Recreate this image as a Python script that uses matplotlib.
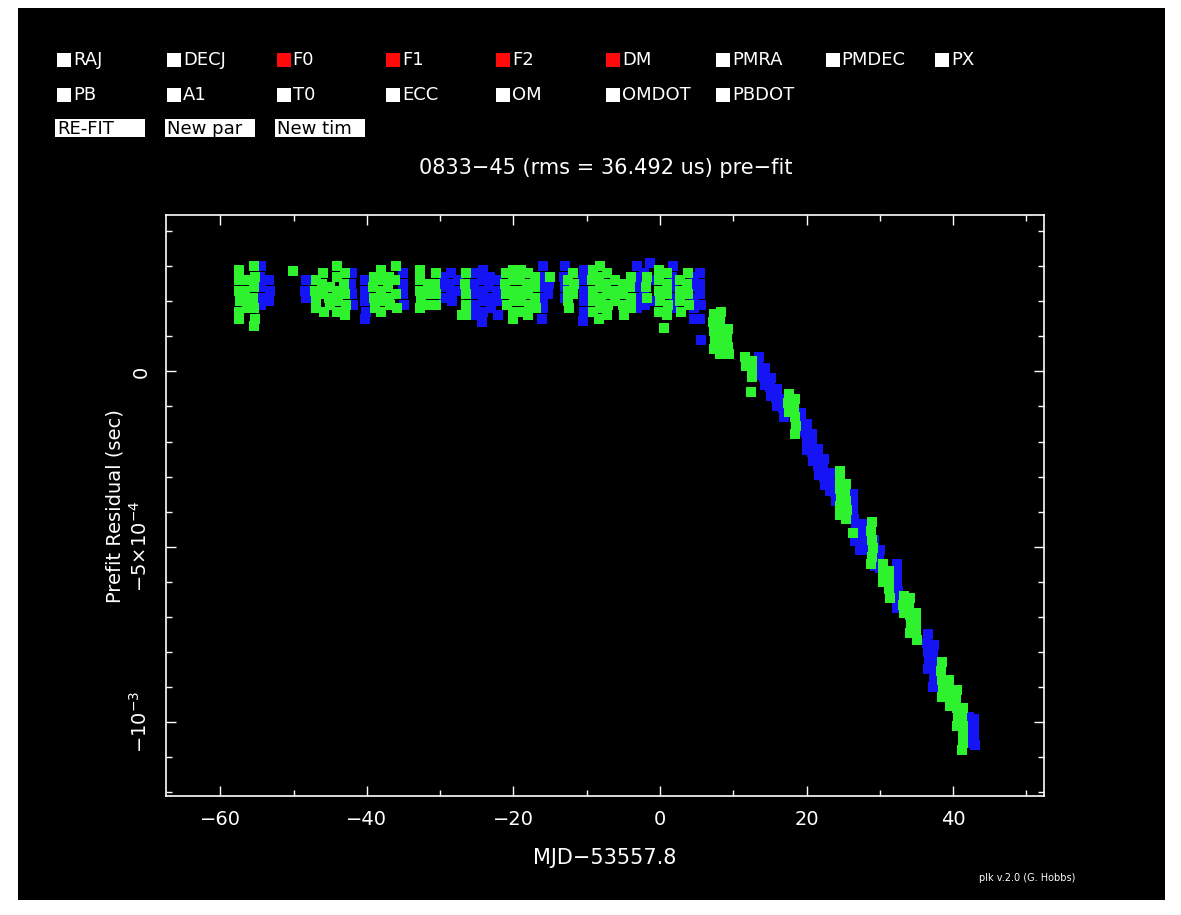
import numpy as np
import matplotlib
matplotlib.use("Agg")
import matplotlib.pyplot as plt
from matplotlib.patches import Rectangle
from matplotlib.ticker import MultipleLocator, FixedLocator

W, H = 1181, 915

# parameter buttons of the plk window
params_row1 = ["RAJ", "DECJ", "F0", "F1", "F2", "DM", "PMRA", "PMDEC", "PX"]
params_row2 = ["PB", "A1", "T0", "ECC", "OM", "OMDOT", "PBDOT"]
fitted = ["F0", "F1", "F2", "DM"]
buttons = ["RE-FIT", "New par", "New tim"]

title = "0833\u221245 (rms = 36.492 us) pre\u2212fit"
xlabel = "MJD\u221253557.8"
ylabel = "Prefit Residual (sec)"
credit = "plk v.2.0 (G. Hobbs)"

ytick_vals = [0, -5e-4, -1e-3]
ytick_text = ["0", r"$-5{\times}10^{-4}$", r"$-10^{-3}$"]

# residuals, x in days, y in units of 1e-4 s
green_x = [
    -57.4, -57.5, -57.4, -57.3, -57.4, -57.5, -56.5, -56.6, -56.5, -56.4,
    -55.4, -55.3, -55.4, -55.5, -55.4, -55.3, -55.4, -50.1,
    -47.0, -47.1, -47.0, -46.9, -46.0, -46.1, -46.0, -45.9, -45.0, -45.1, -45.0,
    -44.0, -44.1, -44.0, -43.9, -44.0, -43.0, -43.1, -43.0, -42.9, -43.0,
    -39.0, -39.1, -39.0, -38.9, -38.0, -38.1, -38.0, -37.9, -38.0,
    -37.0, -37.1, -37.0, -36.9, -36.0, -36.1, -36.0, -35.9,
    -32.7, -32.8, -32.7, -32.6, -32.7, -31.7, -31.6, -31.7, -30.6, -30.7, -30.6, -30.5,
    -26.5, -26.6, -26.5, -26.4, -26.5, -27.0,
    -21.0, -21.1, -21.0, -20.9, -20.0, -20.1, -20.0, -19.9, -20.0, -20.1,
    -19.0, -19.1, -19.0, -18.9, -19.0, -18.0, -18.1, -18.0, -17.9, -18.0,
    -17.0, -17.1, -17.0, -16.9, -15.0,
    -12.5, -12.6, -12.5, -12.4, -11.8, -11.7, -11.8,
    -9.2, -9.3, -9.2, -9.1, -9.2, -8.2, -8.3, -8.2, -8.1, -8.2, -8.3,
    -7.2, -7.3, -7.2, -7.1, -7.2, -6.2, -6.1, -6.2,
    -5.0, -5.1, -5.0, -4.9, -4.0, -4.1, -4.0, -3.9,
    -1.8, -1.9, -1.8,
    -0.1, -0.2, -0.1, 0.0, -0.1, 1.0, 0.9, 1.0, 1.1, 1.0, 0.5,
    2.8, 2.7, 2.8, 2.9, 3.8, 3.7, 3.8, 3.9,
    7.4, 7.3, 7.4, 7.5, 7.4, 8.3, 8.2, 8.3, 8.4, 8.3, 8.2, 9.3, 9.2, 9.3, 9.4,
    11.6, 11.7, 12.6, 12.5, 12.6, 12.4,
    17.6, 17.5, 17.6, 18.4, 18.3, 18.4, 18.5, 18.4,
    24.6, 24.5, 24.6, 24.7, 24.6, 24.5, 25.4, 25.3, 25.4, 25.5, 25.4,
    28.9, 28.8, 28.9, 29.0, 28.9, 28.8, 26.4,
    30.5, 30.4, 30.5, 31.3, 31.2, 31.3, 31.4,
    33.3, 33.2, 33.3, 34.1, 34.0, 34.1, 34.2, 34.1, 35.0, 34.9, 35.0, 35.1,
    38.5, 38.4, 38.5, 38.6, 38.5, 39.5, 39.4, 39.5, 39.6,
    40.5, 40.4, 40.5, 40.6, 40.5, 41.3, 41.2, 41.3, 41.4, 41.3, 41.2,
]
green_y = [
    2.9, 2.6, 2.3, 2.0, 1.7, 1.5, 2.6, 2.3, 2.0, 1.8,
    3.0, 2.7, 2.4, 2.1, 1.8, 1.5, 1.3, 2.87,
    2.6, 2.3, 2.0, 1.8, 2.8, 2.5, 2.2, 1.7, 2.4, 2.1, 1.9,
    3.0, 2.7, 2.3, 2.0, 1.7, 2.8, 2.5, 2.2, 1.9, 1.6,
    2.7, 2.4, 2.1, 1.8, 2.9, 2.6, 2.3, 2.0, 1.7,
    2.7, 2.4, 2.1, 1.9, 3.0, 2.6, 2.2, 1.8,
    2.9, 2.6, 2.3, 2.0, 1.8, 2.5, 2.2, 1.9, 2.8, 2.5, 2.2, 1.9,
    2.8, 2.5, 2.2, 1.9, 1.6, 1.6,
    2.8, 2.5, 2.2, 1.9, 2.9, 2.6, 2.3, 2.0, 1.7, 1.5,
    2.9, 2.6, 2.3, 2.0, 1.7, 2.8, 2.5, 2.2, 1.9, 1.6,
    2.7, 2.4, 2.1, 1.8, 2.7,
    2.6, 2.3, 2.0, 1.8, 2.8, 2.5, 2.2,
    2.9, 2.6, 2.3, 2.0, 1.7, 3.0, 2.7, 2.4, 2.1, 1.8, 1.5,
    2.8, 2.5, 2.2, 1.9, 1.6, 2.6, 2.3, 2.0,
    2.5, 2.2, 1.9, 1.6, 2.7, 2.4, 2.1, 1.8,
    2.7, 2.4, 2.1,
    2.9, 2.6, 2.3, 2.0, 1.7, 2.8, 2.5, 2.2, 1.9, 1.6, 1.24,
    2.6, 2.3, 2.0, 1.7, 2.8, 2.5, 2.2, 1.9,
    1.65, 1.4, 1.15, 0.9, 0.65, 1.7, 1.45, 1.2, 0.95, 0.7, 0.5, 1.2, 0.95, 0.7, 0.5,
    0.4, 0.15, 0.3, 0.05, -0.15, -0.6,
    -0.65, -0.9, -1.15, -0.8, -1.05, -1.3, -1.55, -1.8,
    -2.85, -3.1, -3.35, -3.6, -3.85, -4.1, -3.2, -3.45, -3.7, -3.95, -4.2,
    -4.3, -4.55, -4.8, -5.05, -5.3, -5.5, -4.6,
    -5.5, -5.75, -6.0, -5.7, -5.95, -6.2, -6.45,
    -6.4, -6.65, -6.9, -6.45, -6.7, -6.95, -7.2, -7.45, -6.9, -7.15, -7.4, -7.65,
    -8.3, -8.55, -8.8, -9.05, -9.3, -8.8, -9.05, -9.3, -9.55,
    -9.1, -9.35, -9.6, -9.85, -10.1, -9.6, -9.85, -10.1, -10.35, -10.6, -10.8,
]

blue_x = [
    -54.5, -54.6, -54.5, -54.4, -54.5, -53.3, -53.2, -53.3,
    -48.3, -48.4, -48.3,
    -42.0, -42.1, -42.0, -41.9,
    -40.2, -40.3, -40.2, -40.1, -40.2,
    -35.0, -35.1, -35.0, -34.9,
    -29.5, -29.6, -29.5, -28.5, -28.6, -28.5, -28.4, -27.5, -27.6,
    -25.3, -25.4, -25.3, -25.2, -25.3, -24.2, -24.3, -24.2, -24.1, -24.2, -24.3,
    -23.2, -23.3, -23.2, -23.1, -22.2, -22.3, -22.2, -22.1,
    -16.0, -16.1, -16.0, -15.9, -16.0, -16.1, -15.2, -15.3,
    -13.0, -13.1, -13.0, -12.9,
    -10.4, -10.5, -10.4, -10.3, -10.4, -10.5,
    -3.2, -3.3, -3.2, -3.1, -3.2, -2.2, -2.3, -2.2, -2.1, -1.4, -1.5, -1.4,
    1.8, 1.7, 1.8, 1.9, 1.8,
    4.6, 4.5, 4.6, 4.7, 4.6, 5.5, 5.4, 5.5, 5.6, 5.5, 5.6,
    13.5, 13.4, 13.5, 14.3, 14.2, 14.3, 15.1, 15.0, 15.1,
    16.0, 15.9, 16.0, 16.9, 16.8, 16.9,
    19.3, 19.2, 19.3, 20.0, 19.9, 20.0, 20.1, 20.8, 20.7, 20.8, 20.9,
    21.6, 21.5, 21.6, 21.7, 22.4, 22.3, 22.4, 22.5, 23.2, 23.1, 23.2,
    24.0, 23.9, 24.0,
    26.4, 26.3, 26.4, 26.5,
    26.8, 26.9, 27.6, 27.5, 27.6, 28.4, 28.3, 28.4, 29.2, 29.1, 29.2, 29.3,
    30.0, 29.9, 30.0, 26.6, 27.3,
    32.4, 32.3, 32.4, 32.5, 32.4, 32.3,
    36.6, 36.5, 36.6, 36.7, 36.6, 37.4, 37.3, 37.4, 37.5, 37.4, 37.3,
    42.2, 42.1, 42.2, 42.3, 42.9, 42.8, 42.9, 43.0,
]
blue_y = [
    3.0, 2.7, 2.4, 2.1, 1.9, 2.6, 2.3, 2.0,
    2.6, 2.3, 2.1,
    2.8, 2.5, 2.2, 1.9,
    2.6, 2.3, 2.0, 1.7, 1.5,
    2.8, 2.5, 2.2, 1.9,
    2.7, 2.4, 2.1, 2.8, 2.5, 2.2, 2.0, 2.6, 2.3,
    2.8, 2.5, 2.2, 1.9, 1.6, 2.9, 2.6, 2.3, 2.0, 1.7, 1.4,
    2.7, 2.4, 2.1, 1.8, 2.6, 2.3, 2.0, 1.6,
    3.0, 2.7, 2.4, 2.1, 1.8, 1.5, 2.5, 2.2,
    3.0, 2.7, 2.4, 2.1,
    2.9, 2.6, 2.3, 2.0, 1.7, 1.45,
    3.0, 2.7, 2.4, 2.1, 1.8, 2.8, 2.5, 2.2, 1.9, 3.1, 2.6, 2.0,
    3.0, 2.7, 2.4, 2.1, 1.8,
    2.7, 2.4, 2.1, 1.8, 1.5, 2.8, 2.5, 2.2, 1.9, 1.5, 0.9,
    0.4, 0.15, -0.1, 0.1, -0.15, -0.4, -0.2, -0.45, -0.7,
    -0.5, -0.75, -1.0, -0.8, -1.05, -1.3,
    -1.2, -1.45, -1.7, -1.5, -1.75, -2.0, -2.25, -1.8, -2.05, -2.3, -2.55,
    -2.2, -2.45, -2.7, -2.95, -2.5, -2.75, -3.0, -3.25, -2.9, -3.15, -3.4,
    -3.2, -3.45, -3.7,
    -3.5, -3.75, -4.0, -4.2,
    -4.4, -4.6, -4.35, -4.6, -4.85, -4.6, -4.85, -5.1, -4.8, -5.05, -5.3, -5.55,
    -5.1, -5.35, -5.6, -4.85, -5.1,
    -5.5, -5.75, -6.0, -6.25, -6.5, -6.75,
    -7.5, -7.75, -8.0, -8.25, -8.5, -7.8, -8.05, -8.3, -8.55, -8.8, -9.0,
    -9.85, -10.1, -10.35, -10.6, -9.9, -10.15, -10.4, -10.65,
]

GREEN = "#2ef22e"
BLUE = "#1414f5"
RED = "#ff0a0a"


def fx(px):
    return px / W


def fy(py):
    return 1 - py / H


fig = plt.figure(figsize=(W / 100, H / 100), dpi=100, facecolor="white")

# black plk window inside white border
fig.add_artist(Rectangle((fx(18), fy(900)), fx(1165) - fx(18), fy(8) - fy(900),
                         transform=fig.transFigure, facecolor="black",
                         edgecolor="none", zorder=-5))

# parameter check boxes
col_x0, col_dx = 57, 109.8
for row, (names, ypx) in enumerate([(params_row1, 60), (params_row2, 95)]):
    for i, name in enumerate(names):
        x0 = col_x0 + i * col_dx
        color = RED if name in fitted else "white"
        fig.add_artist(Rectangle((fx(x0), fy(ypx + 7)), 14 / W, 14 / H,
                                 transform=fig.transFigure, facecolor=color,
                                 edgecolor="none"))
        fig.text(fx(x0 + 16), fy(ypx), name, color="white", fontsize=13,
                 ha="left", va="center")

for i, label in enumerate(buttons):
    x0 = 55 + i * 110
    fig.add_artist(Rectangle((fx(x0), fy(137)), 90 / W, 18 / H,
                             transform=fig.transFigure, facecolor="white",
                             edgecolor="none"))
    fig.text(fx(x0 + 2), fy(128.5), label, color="black", fontsize=13,
             ha="left", va="center")

fig.text(fx(606), fy(168), title, color="white", fontsize=15,
         ha="center", va="center")

# main residual plot
ax = fig.add_axes([fx(166), fy(796), fx(1044) - fx(166), fy(215) - fy(796)])
ax.set_facecolor("black")

ax.scatter(blue_x, np.array(blue_y) * 1e-4, marker="s", s=52, c=BLUE,
           linewidths=0, zorder=2)
ax.scatter(green_x, np.array(green_y) * 1e-4, marker="s", s=52, c=GREEN,
           linewidths=0, zorder=3)

ax.set_xlim(-67.4, 52.4)
ax.set_ylim(-1.211e-3, 4.46e-4)

ax.xaxis.set_major_locator(MultipleLocator(20))
ax.xaxis.set_minor_locator(MultipleLocator(10))
ax.yaxis.set_major_locator(FixedLocator(ytick_vals))
ax.yaxis.set_minor_locator(MultipleLocator(1e-4))
ax.set_yticklabels(ytick_text)

for sp in ax.spines.values():
    sp.set_color("white")
    sp.set_linewidth(1.2)

ax.tick_params(which="both", direction="in", colors="white", top=True,
               right=True, width=1.0)
ax.tick_params(which="major", length=7.5)
ax.tick_params(which="minor", length=4.5)
ax.tick_params(axis="x", labelsize=14, pad=10)
ax.tick_params(axis="y", labelsize=14, pad=11, labelrotation=90)
for lbl in ax.get_yticklabels():
    lbl.set_va("center")

fig.text(fx(605), fy(858), xlabel, color="white", fontsize=15,
         ha="center", va="center")
fig.text(fx(115), fy(506), ylabel, color="white", fontsize=14,
         ha="center", va="center", rotation=90)
fig.text(fx(1027), fy(878), credit, color="white", fontsize=7,
         ha="center", va="center")

fig.savefig("out.png", dpi=100, facecolor=fig.get_facecolor())
